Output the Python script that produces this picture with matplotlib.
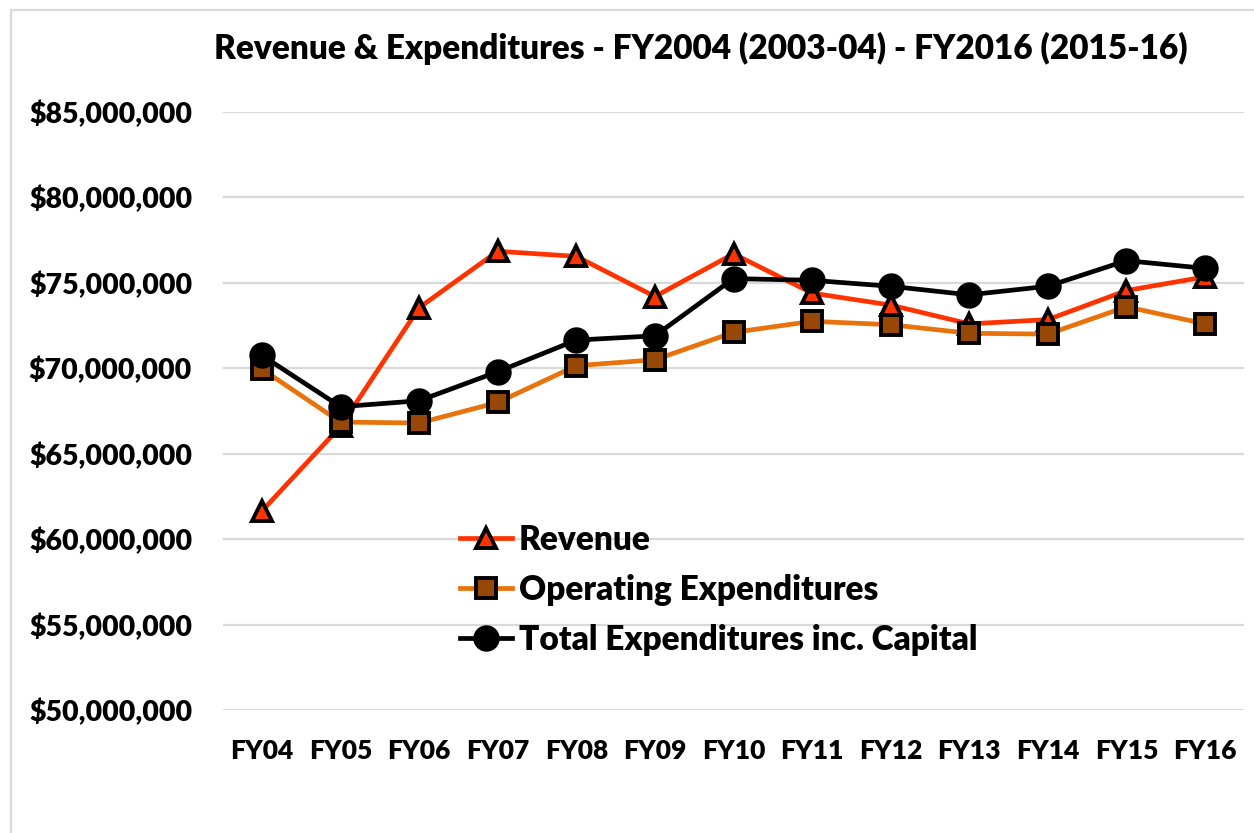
import matplotlib
matplotlib.use("Agg")
import matplotlib.pyplot as plt
from matplotlib.lines import Line2D
from matplotlib.ticker import FuncFormatter

categories = ["FY04", "FY05", "FY06", "FY07", "FY08", "FY09", "FY10",
              "FY11", "FY12", "FY13", "FY14", "FY15", "FY16"]
revenue = [61.65, 66.6, 73.55, 76.85, 76.55, 74.2, 76.7,
           74.4, 73.7, 72.6, 72.85, 74.55, 75.35]
operating = [69.95, 66.85, 66.8, 68.0, 70.15, 70.5, 72.1,
             72.75, 72.55, 72.05, 72.0, 73.6, 72.6]
total = [70.75, 67.75, 68.1, 69.8, 71.65, 71.9, 75.25,
         75.15, 74.8, 74.3, 74.8, 76.3, 75.85]
series_labels = ["Revenue", "Operating Expenditures", "Total Expenditures inc. Capital"]
title = "Revenue & Expenditures - FY2004 (2003-04) - FY2016 (2015-16)"
yticks = [50, 55, 60, 65, 70, 75, 80, 85]

plt.rcParams['font.family'] = ['Lato', 'DejaVu Sans']
WEIGHT = 'heavy'
plt.rcParams['font.weight'] = WEIGHT

W, H = 1254, 833
fig = plt.figure(figsize=(W / 100, H / 100), dpi=100)
ax = fig.add_axes([222.7 / W, 1 - 710 / H, (1244.3 - 222.7) / W, (710 - 112) / H])

x = list(range(len(categories)))
scale = 1e6
ax.plot(x, [v * scale for v in revenue], color="#FF3300", lw=3.4, marker="^",
        markersize=15, markerfacecolor="#FF3300", markeredgecolor="black",
        markeredgewidth=2.8, label=series_labels[0], zorder=3)
ax.plot(x, [v * scale for v in operating], color="#E8730B", lw=3.4, marker="s",
        markersize=14.5, markerfacecolor="#974706", markeredgecolor="black",
        markeredgewidth=2.8, label=series_labels[1], zorder=4)
ax.plot(x, [v * scale for v in total], color="black", lw=3.4, marker="o",
        markersize=17, markerfacecolor="black", markeredgecolor="black",
        markeredgewidth=2.0, label=series_labels[2], zorder=5)

ax.set_xlim(-0.5, len(categories) - 0.5)
ax.set_ylim(yticks[0] * scale, yticks[-1] * scale)
ax.set_yticks([t * scale for t in yticks])
ax.yaxis.set_major_formatter(FuncFormatter(lambda v, p: "${:,.0f}".format(v)))
ax.set_xticks(x)
ax.set_xticklabels(categories)
ax.tick_params(axis="y", length=0, labelsize=20.5, pad=22)
ax.tick_params(axis="x", length=0, labelsize=19, pad=21)
for lab in ax.get_xticklabels() + ax.get_yticklabels():
    lab.set_fontweight(WEIGHT)
ax.grid(axis="y", color="#d9d9d9", lw=1.6)
ax.set_axisbelow(True)
for s in ax.spines.values():
    s.set_visible(False)

leg = ax.legend(loc="upper left", bbox_to_anchor=(460 / W, 1 - 524 / H),
                bbox_transform=fig.transFigure, frameon=False,
                prop={"size": 24, "weight": WEIGHT}, handlelength=1.56,
                handletextpad=0.2, labelspacing=0.54, borderaxespad=0,
                borderpad=0)

fig.text(701 / W, 1 - 48 / H, title, ha="center", va="center",
         fontsize=24, fontweight=WEIGHT)

# chart frame (light gray)
fig.add_artist(Line2D([11 / W, 11 / W], [0, 1 - 10 / H], transform=fig.transFigure,
                      color="#d9d9d9", lw=1.6))
fig.add_artist(Line2D([11 / W, 1], [1 - 10 / H, 1 - 10 / H], transform=fig.transFigure,
                      color="#d9d9d9", lw=1.6))

fig.savefig("out.png", dpi=100)
